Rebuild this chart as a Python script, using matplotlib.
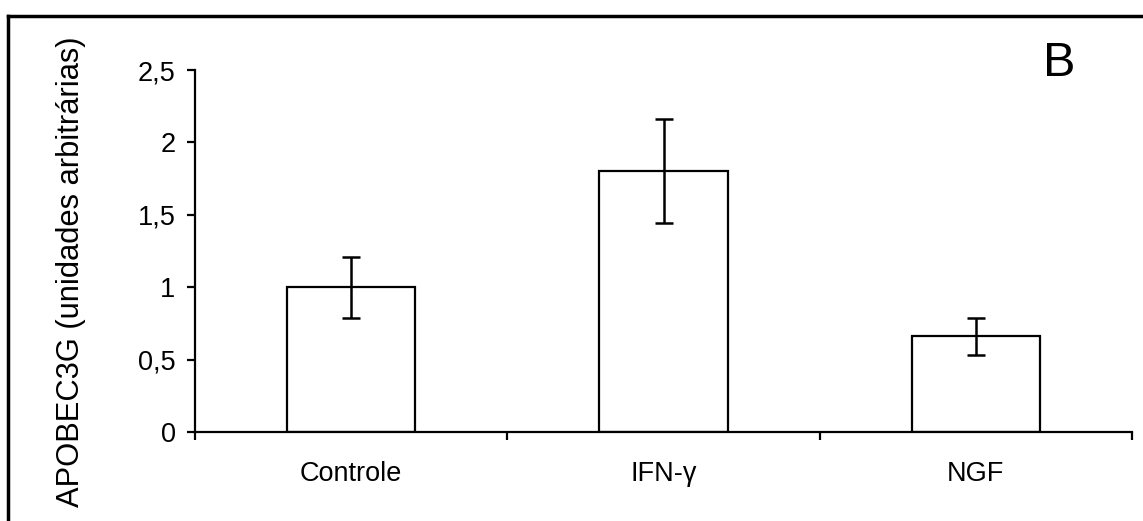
import matplotlib
matplotlib.use("Agg")
import matplotlib.pyplot as plt
from matplotlib.lines import Line2D

plt.rcParams['font.family'] = ['Liberation Sans', 'DejaVu Sans']

# data
grupos = ["Controle", "IFN-γ", "NGF"]
media = [1.0, 1.80, 0.66]
erro = [0.21, 0.36, 0.13]
yticks = [0, 0.5, 1, 1.5, 2, 2.5]
ytick_labels = ["0", "0,5", "1", "1,5", "2", "2,5"]

fig = plt.figure(figsize=(11.43, 5.21), dpi=100)
ax = fig.add_axes([195 / 1143, 89 / 521, 937 / 1143, 362 / 521])

pos = list(range(len(grupos)))
ax.bar(pos, media, width=0.41, color="white", edgecolor="black", linewidth=1.6,
       yerr=erro, error_kw=dict(ecolor="black", elinewidth=1.8, capsize=6.5, capthick=1.8))

ax.set_xlim(-0.5, 2.5)
ax.set_ylim(0, 2.5)
ax.set_yticks(yticks)
ax.set_yticklabels(ytick_labels)
ax.set_xticks(pos)
ax.set_xticklabels(grupos)
ax.set_xticks([-0.5, 0.5, 1.5, 2.5], minor=True)

ax.tick_params(axis="y", direction="out", length=6, width=1.6, labelsize=19.5, pad=8)
ax.tick_params(axis="x", which="major", length=0, labelsize=19.5, pad=21)
ax.tick_params(axis="x", which="minor", direction="out", length=6, width=1.6)

for s in ["top", "right"]:
    ax.spines[s].set_visible(False)
for s in ["left", "bottom"]:
    ax.spines[s].set_linewidth(1.6)

ax.set_ylabel("APOBEC3G (unidades arbitrárias)", fontsize=22.2)
ax.yaxis.set_label_coords(-0.116, 0.442)

fig.text(1059 / 1143, 1 - 64 / 521, "B", fontsize=35, ha="center", va="center")

# frame around the figure (only top and left visible)
fig.add_artist(Line2D([8 / 1143, 1.0], [1 - 16 / 521, 1 - 16 / 521], color="black", linewidth=2.5,
                      transform=fig.transFigure))
fig.add_artist(Line2D([8 / 1143, 8 / 1143], [0, 1 - 16 / 521], color="black", linewidth=2.5,
                      transform=fig.transFigure))

fig.savefig("out.png", dpi=100)
